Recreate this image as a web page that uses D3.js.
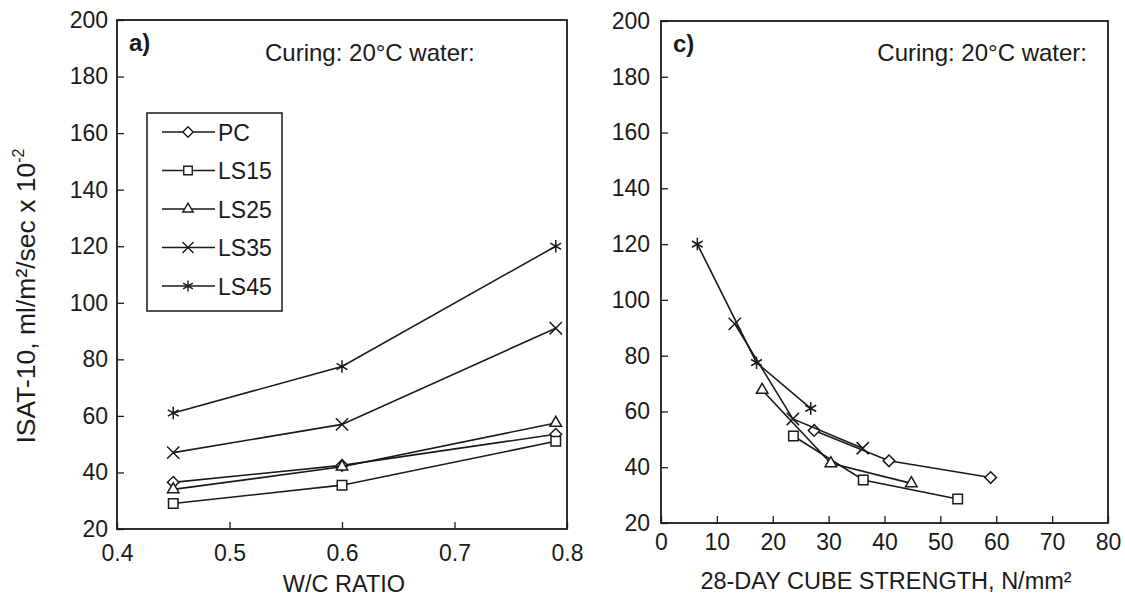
<!DOCTYPE html>
<html>
<head>
<meta charset="utf-8">
<script src="https://cdn.jsdelivr.net/npm/d3@7"></script>
<style>
  html, body { margin: 0; padding: 0; background: #fff; }
  svg { display: block; }
  text { font-family: "Liberation Sans", Arial, Helvetica, sans-serif; fill: #1a1a1a; }
</style>
</head>
<body>
<div id="chart"></div>
<script>
// series names, in legend order
const SERIES = ["PC", "LS15", "LS25", "LS35", "LS45"];

// panel a) ISAT-10 vs W/C ratio
const WC = [0.45, 0.6, 0.79];
const A_PC   = [36.5, 42.5, 53.5];
const A_LS15 = [29, 35.5, 51];
const A_LS25 = [34, 42, 57.5];
const A_LS35 = [47, 57, 91];
const A_LS45 = [61, 77.5, 120];

// panel c) ISAT-10 vs 28-day cube strength (same w/c order)
const C_STR_PC   = [59, 40.8, 27.4];
const C_ISAT_PC  = [36.3, 42.3, 53.2];
const C_STR_LS15 = [53.1, 36.2, 23.7];
const C_ISAT_LS15 = [28.6, 35.4, 51.2];
const C_STR_LS25 = [44.8, 30.4, 18.1];
const C_ISAT_LS25 = [34.2, 41.4, 67.7];
const C_STR_LS35 = [36.1, 23.6, 13.2];
const C_ISAT_LS35 = [46.8, 57.3, 91.4];
const C_STR_LS45 = [26.8, 17.1, 6.5];
const C_ISAT_LS45 = [61.1, 77.5, 120];

// axis ticks
const Y_TICKS = [20, 40, 60, 80, 100, 120, 140, 160, 180, 200];
const XA_TICKS = [0.4, 0.5, 0.6, 0.7, 0.8];
const XC_TICKS = [0, 10, 20, 30, 40, 50, 60, 70, 80];

const W = 1125, H = 599;
const INK = "#1a1a1a";
const FS = 23;

const svg = d3.select("#chart").append("svg").attr("width", W).attr("height", H);

const SYM = {
  PC:   { type: d3.symbolDiamond2 || d3.symbolDiamond, size: 85 },
  LS15: { type: d3.symbolSquare2 || d3.symbolSquare, size: 115 },
  LS25: { type: d3.symbolTriangle2 || d3.symbolTriangle, size: 95 },
  LS35: { type: d3.symbolTimes || d3.symbolCross, size: 100 },
  LS45: { type: d3.symbolAsterisk || d3.symbolCross, size: 110 },
};

function panel(opt) {
  const { x0, x1, y0, y1, xDomain, xTicks, xFmt } = opt;
  const x = d3.scaleLinear().domain(xDomain).range([x0, x1]);
  const y = d3.scaleLinear().domain([20, 200]).range([y1, y0]);
  const g = svg.append("g");

  // frame
  g.append("rect").attr("x", x0).attr("y", y0).attr("width", x1 - x0).attr("height", y1 - y0)
    .attr("fill", "none").attr("stroke", INK).attr("stroke-width", 1.8);

  // axes, inward ticks
  const ax = g.append("g").attr("transform", `translate(0,${y1})`)
    .call(d3.axisBottom(x).tickValues(xTicks).tickFormat(xFmt).tickSizeInner(-7).tickSizeOuter(0).tickPadding(opt.xPad));
  const ay = g.append("g").attr("transform", `translate(${x0},0)`)
    .call(d3.axisLeft(y).tickValues(Y_TICKS).tickSizeInner(-7).tickSizeOuter(0).tickPadding(opt.yPad));
  [ax, ay].forEach(a => {
    a.select(".domain").remove();
    a.selectAll("line").attr("stroke", INK).attr("stroke-width", 1.3);
    a.selectAll("text").attr("font-size", FS).attr("fill", INK)
      .attr("font-family", '"Liberation Sans", Arial, sans-serif');
  });

  // series
  const line = d3.line().x(d => x(d[0])).y(d => y(d[1]));
  opt.data.forEach((pts, i) => {
    const s = SYM[SERIES[i]];
    g.append("path").datum(pts).attr("fill", "none").attr("stroke", INK)
      .attr("stroke-width", 1.6).attr("d", line);
    g.selectAll(null).data(pts).join("path")
      .attr("transform", d => `translate(${x(d[0])},${y(d[1])})`)
      .attr("d", d3.symbol().type(s.type).size(s.size))
      .attr("fill", "#fff").attr("stroke", INK).attr("stroke-width", 1.5);
  });

  g.append("text").attr("x", x0 + 12).attr("y", y0 + 31).attr("font-size", 24)
    .attr("font-weight", "bold").text(opt.tag);
  g.append("text").attr("x", opt.curX).attr("y", 61).attr("text-anchor", opt.curAnchor)
    .attr("font-size", 24).text("Curing: 20°C water:");
  g.append("text").attr("x", opt.xLabelX).attr("y", opt.xLabelY).attr("text-anchor", "middle")
    .attr("font-size", 23.5).text(opt.xLabel);
  return { x, y, g };
}

const zip = (a, b) => a.map((v, i) => [v, b[i]]);

panel({
  x0: 117, x1: 567, y0: 20, y1: 529, xDomain: [0.4, 0.8], xTicks: XA_TICKS,
  xFmt: d3.format(".1f"), xPad: 16, yPad: 9, tag: "a)",
  curX: 265, curAnchor: "start",
  xLabel: "W/C RATIO", xLabelX: 344, xLabelY: 592,
  data: [A_PC, A_LS15, A_LS25, A_LS35, A_LS45].map(s => zip(WC, s)),
});

panel({
  x0: 661, x1: 1108, y0: 21, y1: 523, xDomain: [0, 80], xTicks: XC_TICKS,
  xFmt: d3.format("d"), xPad: 11, yPad: 11, tag: "c)",
  curX: 1087, curAnchor: "end",
  xLabel: "28-DAY CUBE STRENGTH, N/mm²", xLabelX: 886, xLabelY: 589,
  data: [
    zip(C_STR_PC, C_ISAT_PC), zip(C_STR_LS15, C_ISAT_LS15), zip(C_STR_LS25, C_ISAT_LS25),
    zip(C_STR_LS35, C_ISAT_LS35), zip(C_STR_LS45, C_ISAT_LS45),
  ],
});

// legend of panel a)
const leg = svg.append("g");
leg.append("rect").attr("x", 147).attr("y", 113).attr("width", 135).attr("height", 198)
  .attr("fill", "#fff").attr("stroke", INK).attr("stroke-width", 1.5);
const ly = d3.scalePoint().domain(SERIES).range([132, 286]);
SERIES.forEach(name => {
  const cy = ly(name), s = SYM[name];
  leg.append("line").attr("x1", 162).attr("x2", 215).attr("y1", cy).attr("y2", cy)
    .attr("stroke", INK).attr("stroke-width", 1.4);
  leg.append("path").attr("transform", `translate(188,${cy})`)
    .attr("d", d3.symbol().type(s.type).size(s.size * 0.8))
    .attr("fill", "#fff").attr("stroke", INK).attr("stroke-width", 1.4);
  leg.append("text").attr("x", 218).attr("y", cy + 8.5).attr("font-size", FS).text(name);
});

// y axis title
const yt = svg.append("text").attr("transform", "translate(35,296) rotate(-90)")
  .attr("text-anchor", "middle").attr("font-size", 26.5);
yt.append("tspan").text("ISAT-10, ml/m²/sec x 10");
yt.append("tspan").attr("font-size", 16).attr("dy", -11).text("-2");
</script>
</body>
</html>
